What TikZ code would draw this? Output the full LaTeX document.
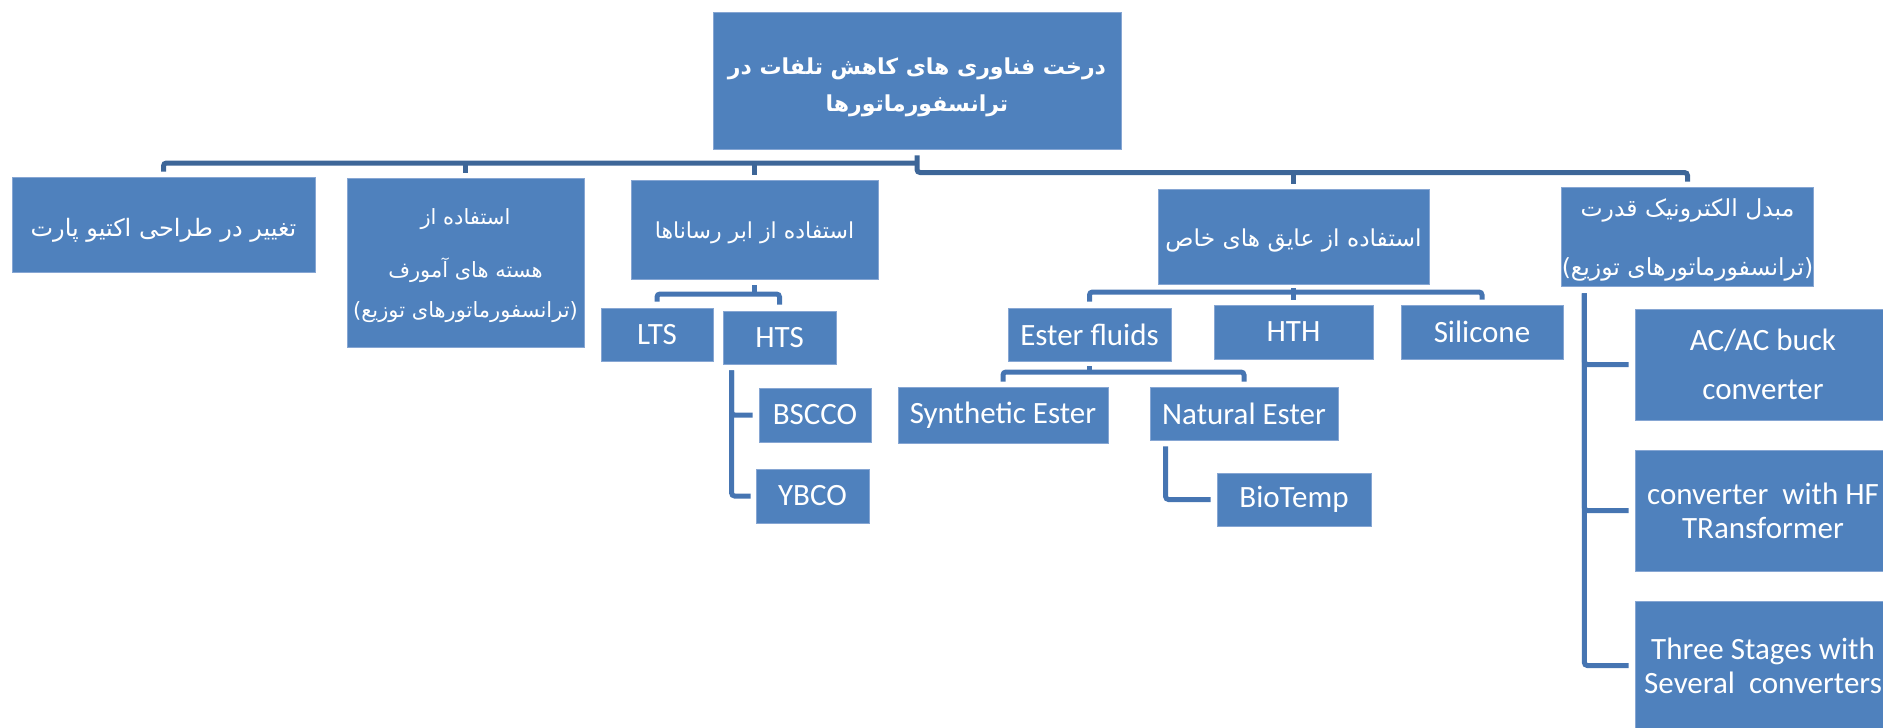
\documentclass[tikz,border=0pt]{standalone}
\usepackage{fontspec}
\setmainfont{Carlito}
\newfontfamily\fa[Script=Arabic]{DejaVu Sans}
\TeXXeTstate=1
% right-to-left line, lowered a little to sit optically centred
\newcommand\rtline[2][4pt]{\raisebox{-#1}[\height][\depth]{\beginR #2\endR}}
\definecolor{boxfill}{HTML}{4F81BD}
\definecolor{boxedge}{HTML}{86A6D3}
\definecolor{trunkline}{HTML}{3D6698}
\definecolor{branchline}{HTML}{4675B2}
\begin{document}
\begin{tikzpicture}[x=1pt,y=-1pt,
  box/.style={fill=boxfill,draw=boxedge,line width=0.8pt,text=white,inner sep=0pt,align=center},
  lat/.style={font=\fontsize{31}{34}\selectfont},
  trunk/.style={draw=trunkline,line width=5pt,rounded corners=3pt},
  branch/.style={draw=branchline,line width=5pt,rounded corners=3pt}]
\useasboundingbox (0,0) rectangle (1883,728);
\clip (0,0) rectangle (1883,728);

% root
\node[box,minimum width=408pt,minimum height=137pt,font=\fa\bfseries\fontsize{22}{37}\selectfont]
  (root) at (917,80.5) {\rtline[7pt]{درخت فناوری های کاهش تلفات در}\\\rtline[7pt]{ترانسفورماتورها}};

% first level
\node[box,minimum width=303pt,minimum height=95pt,font=\fa\fontsize{24}{30}\selectfont]
  (b1) at (163.5,224.5) {\rtline[6pt]{تغییر در طراحی اکتیو پارت}};
\node[box,minimum width=237pt,minimum height=169pt,font=\fa\fontsize{21}{40}\selectfont]
  (b2) at (465.5,262.5) {\rtline[3pt]{استفاده از}\\[13pt]\rtline[3pt]{هسته های آمورف}\\\rtline[3pt]{(ترانسفورماتورهای توزیع)}};
\node[box,minimum width=247pt,minimum height=99pt,font=\fa\fontsize{22}{30}\selectfont]
  (b3) at (754.5,229.5) {\rtline[3pt]{استفاده از ابر رساناها}};
\node[box,minimum width=271pt,minimum height=95pt,font=\fa\fontsize{23.3}{30}\selectfont]
  (b4) at (1293.5,236.5) {\rtline[4pt]{استفاده از عایق های خاص}};
\node[box,minimum width=249pt,minimum height=99pt,font=\fa\fontsize{23.5}{59}\selectfont]
  (b5) at (1687.5,236.5) {\rtline[3pt]{مبدل الکترونیک قدرت}\\\rtline[3pt]{(ترانسفورماتورهای توزیع)}};

% superconductors
\node[box,lat,minimum width=112pt,minimum height=53pt] (LTS) at (657,334.5) {LTS};
\node[box,lat,minimum width=113pt,minimum height=53pt] (HTS) at (779.5,337.5) {HTS};
\node[box,lat,minimum width=112pt,minimum height=54pt] (BSCCO) at (815,415) {BSCCO};
\node[box,lat,minimum width=113pt,minimum height=54pt] (YBCO) at (812.5,496) {YBCO};

% insulating fluids
\node[box,lat,minimum width=163pt,minimum height=53pt] (EF) at (1089.5,334.5) {Ester fluids};
\node[box,lat,minimum width=159pt,minimum height=54pt] (HTH) at (1293.5,332) {HTH};
\node[box,lat,minimum width=162pt,minimum height=54pt] (SIL) at (1482,332) {Silicone};
\node[box,lat,minimum width=210pt,minimum height=56pt] (SYN) at (1003,415) {Synthetic Ester};
\node[box,lat,minimum width=188pt,minimum height=53pt] (NAT) at (1244,413.5) {Natural Ester};
\node[box,lat,minimum width=154pt,minimum height=53pt] (BIO) at (1294,499.5) {BioTemp};

% power electronic converters
\node[box,lat,minimum width=256pt,minimum height=111pt] (ACAC) at (1763,364.5) {AC/AC buck\\[15pt]converter};
\node[box,lat,minimum width=256pt,minimum height=121pt] (HF) at (1763,510.5) {converter\ \ with HF\\TRansformer};
\node[box,lat,minimum width=256pt,minimum height=129pt] (THREE) at (1763,665.5) {Three Stages with\\Several\ \ converters};

% top-level connectors
\coordinate (barL) at (917,163);
\coordinate (barR) at (917,172.5);
\draw[trunk] ([yshift=-6pt]root.south) -- (barR) -| ([yshift=5pt]b5.north);
\draw[trunk] (barL) -| ([yshift=5pt]b1.north);
\draw[trunk] (b2.north |- barL) -- ([yshift=5pt]b2.north);
\draw[trunk] (b3.north |- barL) -- ([yshift=5pt]b3.north);
\draw[trunk] (b4.north |- barR) -- ([yshift=5pt]b4.north);

% superconductor branch
\coordinate (b3bar) at (754.5,294);
\draw[branch] ([yshift=-6pt]b3.south) -- (b3bar);
\draw[branch] ([yshift=6pt]LTS.north) |- (b3bar) -| ([yshift=6pt]HTS.north);
\draw[branch] ([xshift=9pt,yshift=-6pt]HTS.south west) |- ([xshift=-6pt]BSCCO.west);
\draw[branch] ([xshift=9pt,yshift=-6pt]HTS.south west) |- ([xshift=-5pt]YBCO.west);

% insulating fluid branch
\coordinate (b4bar) at (1293.5,292);
\draw[branch] ([yshift=-4pt]b4.south) -- (b4bar);
\draw[branch] ([yshift=6pt]EF.north) |- (b4bar) -| ([yshift=5pt]SIL.north);
\draw[branch] (b4bar) -- ([yshift=5pt]HTH.north);
\coordinate (efbar) at (1089.5,372);
\draw[branch] ([yshift=-5pt]EF.south) -- (efbar);
\draw[branch] ([yshift=5pt]SYN.north) |- (efbar) -| ([yshift=5pt]NAT.north);
\draw[branch] ([xshift=16pt,yshift=-6pt]NAT.south west) |- ([xshift=-6pt]BIO.west);

% converter branch
\draw[branch] ([xshift=23pt,yshift=-7pt]b5.south west) |- ([xshift=-6pt]ACAC.west);
\draw[branch] ([xshift=23pt,yshift=-7pt]b5.south west) |- ([xshift=-6pt]HF.west);
\draw[branch] ([xshift=23pt,yshift=-7pt]b5.south west) |- ([xshift=-6pt]THREE.west);
\end{tikzpicture}
\end{document}
